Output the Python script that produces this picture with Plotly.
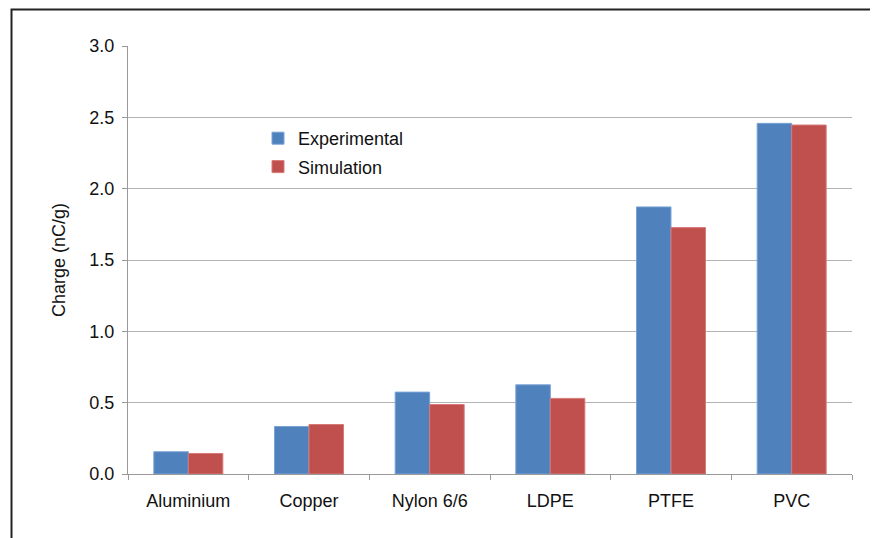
import plotly.graph_objects as go

categories = ["Aluminium", "Copper", "Nylon 6/6", "LDPE", "PTFE", "PVC"]
experimental = [0.156, 0.333, 0.574, 0.625, 1.872, 2.458]
simulation = [0.144, 0.347, 0.487, 0.530, 1.727, 2.446]
y_ticks = [0.0, 0.5, 1.0, 1.5, 2.0, 2.5, 3.0]
y_tick_labels = ["0.0", "0.5", "1.0", "1.5", "2.0", "2.5", "3.0"]

# page is rendered with an 8px body margin
OFF = 8
W, H = 870, 530
L, R, T, B = 120, 26, 38, 64
pw, ph = W - L - R, H - T - B

fig = go.Figure()
fig.add_trace(go.Bar(name="Experimental", x=categories, y=experimental, legendgroup="e",
                     marker=dict(color="#4F81BD", line=dict(color="#7aa3d6", width=1))))
fig.add_trace(go.Bar(name="Simulation", x=categories, y=simulation, legendgroup="s",
                     marker=dict(color="#C0504D", line=dict(color="#d67a78", width=1))))

def px_x(p):
    return (p - OFF - L) / pw

def px_y(p):
    return (H + OFF - B - p) / ph

fig.add_shape(type="path", xref="paper", yref="paper",
              path=f"M {px_x(11.5)} {px_y(560)} L {px_x(11.5)} {px_y(9.5)} L {px_x(900)} {px_y(9.5)}",
              line=dict(color="#222222", width=2))

fig.update_layout(
    width=W, height=H,
    margin=dict(l=L, r=R, t=T, b=B),
    paper_bgcolor="white", plot_bgcolor="white",
    barmode="group", bargap=0.428, bargroupgap=0,
    font=dict(family="Liberation Sans, Arial, sans-serif", size=18, color="#111111"),
    showlegend=True,
    legend=dict(x=px_x(258), y=px_y(120), xanchor="left", yanchor="top",
                bgcolor="rgba(0,0,0,0)", font=dict(size=18), tracegroupgap=2,
                itemwidth=30),
    xaxis=dict(type="category", showline=True, linecolor="#999999", linewidth=1,
               ticks="outside", tickson="boundaries", ticklen=5, tickcolor="#999999",
               showgrid=False, tickfont=dict(size=18), ticklabelstandoff=10),
    yaxis=dict(range=[0, 3.0], tickvals=y_ticks, ticktext=y_tick_labels,
               showline=True, linecolor="#999999", linewidth=1,
               ticks="outside", ticklen=5, tickcolor="#999999",
               showgrid=True, gridcolor="#b3b3b3", gridwidth=1, zeroline=False,
               tickfont=dict(size=18), ticklabelstandoff=4,
               title=dict(text="Charge (nC/g)", font=dict(size=18), standoff=19)),
)

fig.write_html("out.html")
